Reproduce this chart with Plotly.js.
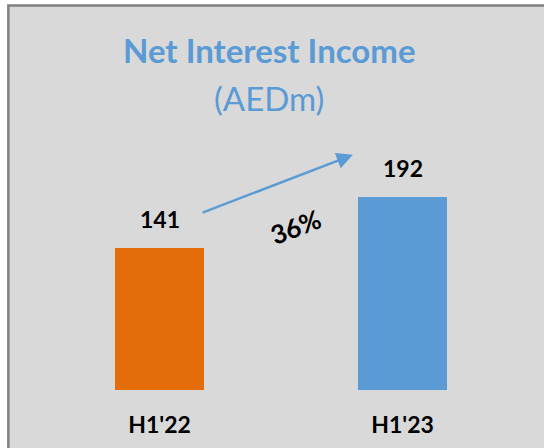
<!DOCTYPE html>
<html>
<head>
<meta charset="utf-8">
<script src="https://cdn.plot.ly/plotly-3.0.1.min.js"></script>
<style>
  html, body { margin: 0; padding: 0; background: #ffffff; }
  #chart { width: 544px; height: 448px; }
</style>
</head>
<body>
<div id="chart"></div>
<script>
// chart data
const periods = ["H1'22", "H1'23"];
const netInterestIncome = [141, 192];
const barColors = ["#e46c0a", "#5b9bd5"];
const growthLabel = "36%";

const FONT = "Lato, 'Open Sans', sans-serif";
const BLUE = "#5b9bd5";

const trace = {
  type: "bar",
  x: periods,
  y: netInterestIncome,
  marker: { color: barColors },
  width: 0.366,
  hoverinfo: "skip",
};

// value labels sit above each bar
const valueLabels = periods.map((p, i) => ({
  x: p,
  y: netInterestIncome[i],
  xref: "x",
  yref: "y",
  text: "<b>" + netInterestIncome[i] + "</b>",
  showarrow: false,
  yanchor: "bottom",
  yshift: 13,
  font: { family: FONT, size: 23, color: "#000000" },
}));

const layout = {
  width: 544,
  height: 448,
  margin: { l: 38, r: 20, t: 189, b: 58 },
  paper_bgcolor: "#ffffff",
  plot_bgcolor: "rgba(0,0,0,0)",
  showlegend: false,
  bargap: 0,
  xaxis: {
    type: "category",
    range: [-0.5, 1.5],
    showgrid: false,
    zeroline: false,
    showline: false,
    ticks: "",
    ticklabelstandoff: 19,
    tickfont: { family: FONT, size: 23, color: "#000000", weight: "bold" },
    fixedrange: true,
  },
  yaxis: {
    range: [0, 200],
    showgrid: false,
    zeroline: false,
    showline: false,
    showticklabels: false,
    fixedrange: true,
  },
  shapes: [
    {
      // grey chart area with its frame
      type: "rect",
      xref: "paper",
      yref: "paper",
      x0: -0.061,
      x1: 1.2,
      y0: -0.5,
      y1: 1.913,
      fillcolor: "#d9d9d9",
      line: { color: "#808080", width: 2.5 },
      layer: "below",
    },
  ],
  annotations: [
    {
      xref: "paper",
      yref: "paper",
      x: 0.477,
      y: 1.692,
      xanchor: "center",
      yanchor: "middle",
      text: "<b>Net Interest Income</b>",
      showarrow: false,
      font: { family: FONT, size: 33, color: BLUE },
    },
    {
      xref: "paper",
      yref: "paper",
      x: 0.475,
      y: 1.453,
      xanchor: "center",
      yanchor: "middle",
      text: "(AEDm)",
      showarrow: false,
      font: { family: FONT, size: 33, color: BLUE },
    },
    {
      // growth arrow between the bars
      x: 0.796,
      y: 234,
      xref: "x",
      yref: "y",
      ax: 0.171,
      ay: 176,
      axref: "x",
      ayref: "y",
      text: "",
      showarrow: true,
      arrowhead: 2,
      arrowsize: 1.3,
      arrowwidth: 2.5,
      arrowcolor: BLUE,
    },
    {
      x: 0.558,
      y: 162,
      xref: "x",
      yref: "y",
      xanchor: "center",
      yanchor: "middle",
      text: "<b>" + growthLabel + "</b>",
      showarrow: false,
      textangle: -21,
      font: { family: FONT, size: 26, color: "#000000" },
    },
    ...valueLabels,
  ],
};

Plotly.newPlot("chart", [trace], layout, { staticPlot: true, displayModeBar: false });
</script>
</body>
</html>
